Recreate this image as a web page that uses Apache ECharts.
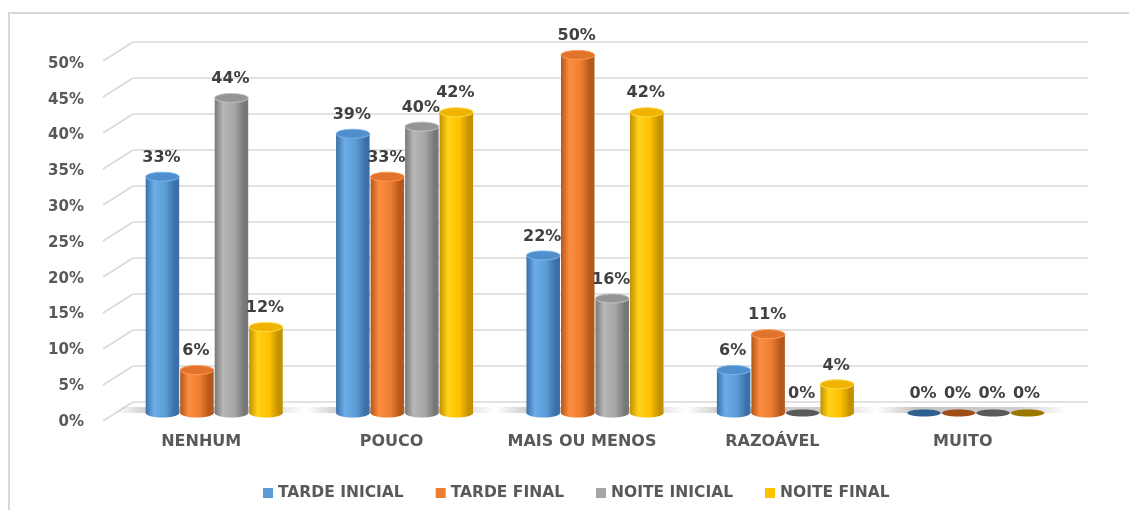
<!DOCTYPE html>
<html>
<head>
<meta charset="utf-8">
<script src="https://cdn.jsdelivr.net/npm/echarts@6/dist/echarts.min.js"></script>
<style>
  html, body { margin: 0; padding: 0; background: #fff; }
  #chart { width: 1129px; height: 510px; }
</style>
</head>
<body>
<div id="chart"></div>
<script>
// Survey answers per group, in percent
const categories = ['NENHUM', 'POUCO', 'MAIS OU MENOS', 'RAZOÁVEL', 'MUITO'];
const tardeInicial = [33, 39, 22, 6, 0];
const tardeFinal = [6, 33, 50, 11, 0];
const noiteInicial = [44, 40, 16, 0, 0];
const noiteFinal = [12, 42, 42, 4, 0];
const yTicks = [0, 5, 10, 15, 20, 25, 30, 35, 40, 45, 50];
const seriesNames = ['TARDE INICIAL', 'TARDE FINAL', 'NOITE INICIAL', 'NOITE FINAL'];
const seriesValues = [tardeInicial, tardeFinal, noiteInicial, noiteFinal];

// cylinder shading for each series
const palette = [
  { base: '#5B9BD5', light: '#6cace8', dark: '#3a6fa8', top: '#4f8fcd', rim: '#7ab6ea', zero: '#2f5f8f' },
  { base: '#ED7D31', light: '#fd8d40', dark: '#b3571a', top: '#e2732a', rim: '#ff9a55', zero: '#a04d17' },
  { base: '#A5A5A5', light: '#b7b7b7', dark: '#777777', top: '#959595', rim: '#c4c4c4', zero: '#5a5a5a' },
  { base: '#FFC000', light: '#ffd21a', dark: '#c29000', top: '#f0b400', rim: '#ffd84a', zero: '#9c7700' }
];

const chart = echarts.init(document.getElementById('chart'));

function cylinder(k) {
  const c = palette[k];
  return function (params, api) {
    const ci = api.value(0), v = api.value(1);
    const base = api.coord([ci, 0]);
    const top = api.coord([ci, v]);
    const band = api.size([1, 0])[0];
    const bw = band * 0.725 / 4;
    const cx = base[0] + (k - 1.5) * bw;
    const rx = bw / 2 - 0.5;
    const ry = 4.5;
    const children = [];
    if (v <= 0) {
      children.push({
        type: 'ellipse',
        shape: { cx: cx, cy: base[1], rx: rx, ry: 3.5 },
        style: { fill: c.zero }
      });
    } else {
      const grad = new echarts.graphic.LinearGradient(0, 0, 1, 0, [
        { offset: 0, color: c.dark },
        { offset: 0.25, color: c.light },
        { offset: 0.6, color: c.base },
        { offset: 0.88, color: c.dark },
        { offset: 1, color: c.dark }
      ]);
      children.push({
        type: 'ellipse',
        shape: { cx: cx, cy: base[1], rx: rx, ry: ry },
        style: { fill: grad }
      });
      children.push({
        type: 'rect',
        shape: { x: cx - rx, y: top[1], width: rx * 2, height: base[1] - top[1] },
        style: { fill: grad }
      });
      children.push({
        type: 'ellipse',
        shape: { cx: cx, cy: top[1], rx: rx, ry: ry },
        style: { fill: c.top, stroke: c.rim, lineWidth: 1 }
      });
    }
    children.push({
      type: 'text',
      style: {
        x: cx - 1, y: top[1] - 19,
        text: v + '%',
        align: 'center', verticalAlign: 'middle',
        font: 'bold 16px "DejaVu Sans"',
        fill: '#404040'
      }
    });
    return { type: 'group', children: children };
  };
}

const series = [];

// front diagonal edges of the back-wall gridlines
series.push({
  type: 'custom',
  name: 'wall',
  xAxisIndex: 2, yAxisIndex: 2,
  silent: true,
  data: yTicks.map(v => [0, v]),
  renderItem: function (params, api) {
    const p = api.coord([0, api.value(1)]);
    const x = params.coordSys.x;
    return {
      type: 'line',
      shape: { x1: x, y1: p[1], x2: x - 30, y2: p[1] + 19 },
      style: { stroke: '#d9d9d9', lineWidth: 1.5 }
    };
  },
  z: 1
});

// soft floor shadow beneath every group
series.push({
  type: 'custom',
  name: 'floor',
  xAxisIndex: 0, yAxisIndex: 0,
  silent: true,
  data: categories.map((_, i) => [i, 0]),
  renderItem: function (params, api) {
    const p = api.coord([api.value(0), 0]);
    const band = api.size([1, 0])[0];
    const shade = new echarts.graphic.LinearGradient(0, 0, 1, 0, [
      { offset: 0, color: 'rgba(0,0,0,0)' },
      { offset: 0.2, color: 'rgba(0,0,0,0.22)' },
      { offset: 0.75, color: 'rgba(0,0,0,0.18)' },
      { offset: 1, color: 'rgba(0,0,0,0)' }
    ]);
    return {
      type: 'rect',
      shape: { x: p[0] - band * 0.52, y: p[1] - 6, width: band * 1.0, height: 6 },
      style: { fill: shade, shadowBlur: 5, shadowColor: 'rgba(0,0,0,0.12)' }
    };
  },
  z: 2
});

seriesValues.forEach((vals, k) => {
  series.push({
    type: 'custom',
    name: seriesNames[k],
    xAxisIndex: 0, yAxisIndex: 0,
    itemStyle: { color: palette[k].base },
    data: vals.map((v, i) => [i, v]),
    renderItem: cylinder(k),
    z: 3
  });
});

chart.setOption({
  animation: false,
  backgroundColor: '#ffffff',
  graphic: [{
    type: 'rect',
    shape: { x: 9, y: 13, width: 1200, height: 600 },
    style: { fill: 'none', stroke: '#d9d9d9', lineWidth: 2 },
    silent: true, z: -1
  }],
  legend: {
    data: seriesNames,
    left: 258, top: 480,
    icon: 'rect',
    itemWidth: 10, itemHeight: 10,
    itemGap: 32,
    textStyle: { fontFamily: 'DejaVu Sans', fontWeight: 'bold', fontSize: 15.5, color: '#595959' }
  },
  grid: [
    { left: 119, right: 58, top: 55, bottom: 97 },   // bars
    { left: 103, right: 58, top: 64, bottom: 88 },   // tick labels
    { left: 133, right: 41, top: 42, bottom: 108 }   // back wall
  ],
  xAxis: [
    {
      type: 'category', gridIndex: 0, data: categories,
      axisLine: { show: false }, axisTick: { show: false },
      axisLabel: {
        interval: 0, hideOverlap: false,
        margin: 21, padding: [0, 26, 0, 0],
        fontFamily: 'DejaVu Sans', fontWeight: 'bold', fontSize: 16, color: '#595959'
      }
    },
    { type: 'value', gridIndex: 1, show: false, min: 0, max: 1 },
    { type: 'value', gridIndex: 2, show: false, min: 0, max: 1 }
  ],
  yAxis: [
    { type: 'value', gridIndex: 0, min: 0, max: 50, interval: 5, show: false },
    {
      type: 'value', gridIndex: 1, min: 0, max: 50, interval: 5,
      axisLine: { show: false }, axisTick: { show: false }, splitLine: { show: false },
      axisLabel: { margin: 19, formatter: '{value}%', fontFamily: 'DejaVu Sans', fontWeight: 'bold', fontSize: 15, color: '#595959' }
    },
    {
      type: 'value', gridIndex: 2, min: 0, max: 50, interval: 5,
      axisLine: { show: false }, axisTick: { show: false }, axisLabel: { show: false },
      splitLine: { show: true, lineStyle: { color: '#d9d9d9', width: 1.5 } }
    }
  ],
  series: series
});
</script>
</body>
</html>
